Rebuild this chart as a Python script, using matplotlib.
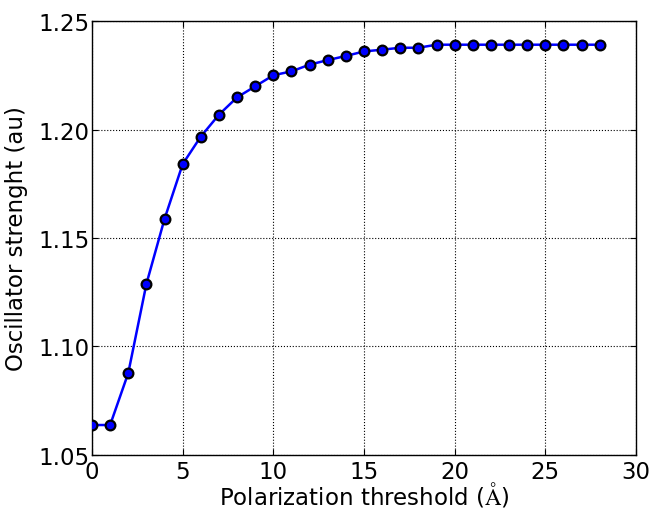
import matplotlib
matplotlib.use('Agg')
from matplotlib import pyplot as plt
import numpy as np

# polarization threshold (Angstrom) vs oscillator strength
threshold = [0, 1, 2, 3, 4, 5, 6, 7, 8, 9, 10, 11, 12, 13, 14,
             15, 16, 17, 18, 19, 20, 21, 22, 23, 24, 25, 26, 27, 28]
strength = [1.0637, 1.0637, 1.0877, 1.1288, 1.1588, 1.1841, 1.1968, 1.2069,
            1.2149, 1.2200, 1.2251, 1.2269, 1.2300, 1.2321, 1.2340, 1.2361,
            1.2369, 1.2378, 1.2378, 1.2392, 1.2392, 1.2392, 1.2392, 1.2392,
            1.2392, 1.2392, 1.2392, 1.2392, 1.2392]
yticks = [1.05, 1.10, 1.15, 1.20, 1.25]

plt.rcParams['mathtext.fontset'] = 'cm'
fig = plt.figure(figsize=(6.53, 5.10), dpi=100)
ax = fig.add_axes([92/653, 1 - 455.7/510, 544/653, 433.4/510])

ax.plot(threshold, strength, 'b-', lw=1.8, zorder=3)
ax.plot(threshold, strength, 'o', ms=7, mfc='b', mec='k', mew=1.6, zorder=4)

ax.set_xlim(0, 30)
ax.set_ylim(1.05, 1.25)
ax.set_yticks(yticks)
ax.set_yticklabels([f'{v:.2f}' for v in yticks])
ax.grid(True, color='k', linestyle=':', linewidth=0.8)
ax.tick_params(direction='in', labelsize=16.5, length=4, top=True, right=True)
ax.tick_params(axis='y', pad=2)
ax.tick_params(axis='x', pad=4)
ax.set_xlabel(r'Polarization threshold ($\mathrm{\AA}$)', fontsize=16.5, labelpad=-3)
ax.set_ylabel('Oscillator strenght (au)', fontsize=16.5, labelpad=7)
for s in ax.spines.values():
    s.set_linewidth(1.0)

fig.savefig('out.png', dpi=100)
